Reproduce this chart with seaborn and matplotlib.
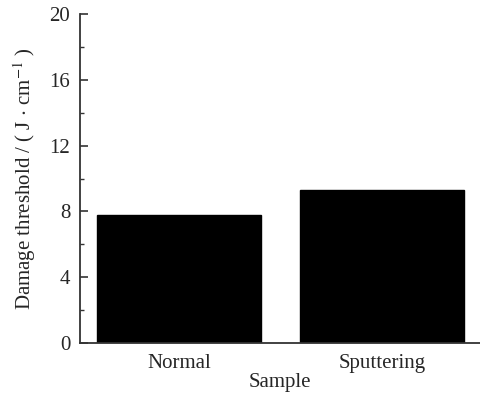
import matplotlib
matplotlib.use("Agg")
import matplotlib.pyplot as plt
from matplotlib.ticker import MultipleLocator
import seaborn as sns
import pandas as pd

samples = ["Normal", "Sputtering"]
thresholds = [7.8, 9.3]
y_ticks = [0, 4, 8, 12, 16, 20]

sns.set_style("ticks")
plt.rcParams["font.family"] = ["Liberation Serif", "DejaVu Serif"]
plt.rcParams["mathtext.fontset"] = "stix"

df = pd.DataFrame({"Sample": samples, "Threshold": thresholds})

fig = plt.figure(figsize=(4.8, 3.94), dpi=100)
ax = fig.add_axes([80 / 480, 51 / 394, 400 / 480, 329 / 394])

sns.barplot(data=df, x="Sample", y="Threshold", color="black", saturation=1,
            width=0.81, edgecolor="black", ax=ax)

ax.set_xlim(-0.49, 1.485)
ax.set_ylim(0, 20)
ax.set_yticks(y_ticks)
ax.yaxis.set_minor_locator(MultipleLocator(2))
ax.tick_params(axis="y", which="major", direction="in", length=6, width=1.2,
               labelsize=15, pad=7, color="#333333")
ax.tick_params(axis="y", which="minor", direction="in", length=3, width=1.0,
               color="#333333")
ax.tick_params(axis="x", length=0, labelsize=15, pad=8)

for side in ("top", "right"):
    ax.spines[side].set_visible(False)
for side in ("left", "bottom"):
    ax.spines[side].set_linewidth(1.3)
    ax.spines[side].set_color("#333333")

ax.set_xlabel("Sample", fontsize=15, labelpad=0)
ax.set_ylabel(r"Damage threshold / ( J $\cdot$ cm$^{-1}$ )", fontsize=15, labelpad=8)

fig.savefig("out.png", dpi=100)
